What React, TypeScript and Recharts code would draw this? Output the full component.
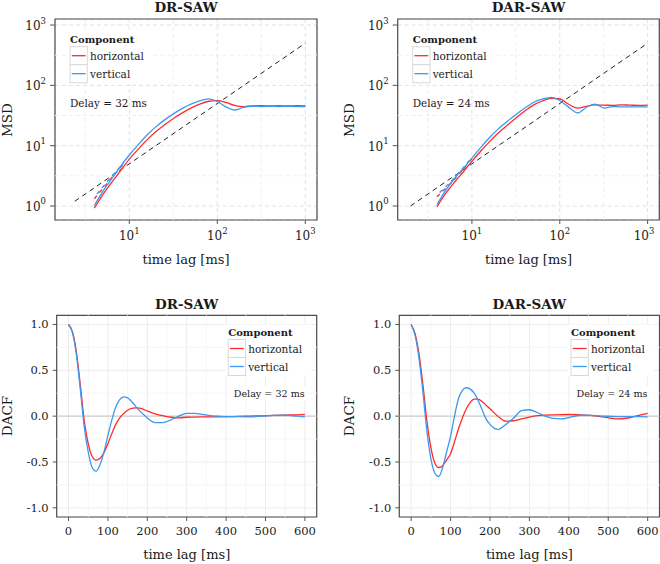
import React from 'react'
import { LineChart, Line, XAxis, YAxis, CartesianGrid, ReferenceLine, ReferenceArea } from 'recharts'

const RED = '#ff2b2b'
const BLUE = '#3c98f0'
const FONT = '"DejaVu Serif", serif'
const INK = '#1a1a1a'

// ---- MSD (log-log) ----
const msdLags = [4, 5, 6.5, 8, 10, 12.5, 16, 20, 25, 32, 40, 50, 63, 80, 100, 125, 160, 200, 250, 320, 400, 500, 630, 800, 1000]
const drMsdH = [0.92, 1.55, 2.6, 3.9, 6.0, 8.6, 12.6, 17, 22, 28.5, 35, 42, 49, 54.5, 56, 52, 46, 44.5, 45.5, 46, 45.5, 46, 45.5, 46, 45.5]
const drMsdV = [1.02, 1.75, 3.0, 4.6, 7.0, 10.2, 15.2, 20.5, 26.5, 34, 41.5, 49, 55.5, 59.5, 54, 44, 39, 43.5, 45, 44.5, 45, 44.5, 45, 44.5, 44.5]
const darMsdH = [0.97, 1.6, 2.6, 3.7, 5.5, 8.0, 11.8, 16.2, 21.5, 29, 37.5, 47, 55, 61, 60, 49, 42, 45, 47.5, 47, 46.5, 47.5, 47, 46.5, 47]
const darMsdV = [1.05, 1.8, 3.0, 4.2, 6.2, 9.2, 13.8, 19, 25, 33, 42, 52, 59, 63, 56, 44, 35, 43, 49, 42, 44.5, 44, 44, 44, 44]

const drFitLags = [4, 6, 8.6]
const drFitH = [1.32, 2.7, 5.0]
const drFitV = [1.4, 2.85, 5.2]
const darFitLags = [4, 6, 8, 10]
const darFitH = [1.42, 2.55, 4.1, 6.1]
const darFitV = [1.5, 2.7, 4.35, 6.4]

const drRefLags = [2.4, 1000]
const drRef = [1.2, 500]
const darRefLags = [2, 1000]
const darRef = [1, 500]

const msdXDomain = [1.43, 1358]
const msdYDomain = [0.586, 1259]
const msdXTicks = [10, 100, 1000]
const msdYTicks = [1, 10, 100, 1000]
const msdMinor = [3.162, 31.62, 316.2]

// ---- DACF ----
const acfLags = [0, 10, 20, 30, 40, 50, 60, 70, 80, 90, 100, 110, 120, 130, 140, 150, 160, 170, 180, 190, 200, 220, 240, 260, 280, 300, 320, 340, 360, 380, 400, 430, 460, 490, 520, 550, 580, 600]
const drAcfH = [1.0, 0.92, 0.7, 0.34, -0.05, -0.3, -0.44, -0.48, -0.46, -0.4, -0.3, -0.19, -0.09, -0.02, 0.03, 0.065, 0.085, 0.09, 0.088, 0.075, 0.057, 0.025, 0.005, -0.012, -0.018, -0.012, -0.01, -0.008, -0.007, -0.007, -0.006, -0.003, 0.0, 0.004, 0.008, 0.012, 0.015, 0.018]
const drAcfV = [1.0, 0.91, 0.67, 0.29, -0.12, -0.39, -0.56, -0.6, -0.53, -0.39, -0.21, -0.04, 0.1, 0.18, 0.21, 0.2, 0.16, 0.11, 0.06, 0.02, -0.02, -0.07, -0.07, -0.04, 0.0, 0.03, 0.03, 0.02, 0.005, 0.0, -0.005, -0.006, -0.007, 0.0, 0.008, 0.011, 0.0, -0.007]
const darAcfH = [1.0, 0.9, 0.68, 0.34, -0.05, -0.34, -0.51, -0.56, -0.54, -0.48, -0.41, -0.28, -0.14, -0.02, 0.08, 0.15, 0.185, 0.185, 0.16, 0.12, 0.08, 0.0, -0.055, -0.05, -0.03, -0.01, 0.005, 0.012, 0.015, 0.017, 0.018, 0.014, 0.006, -0.01, -0.03, -0.02, 0.01, 0.03]
const darAcfV = [1.0, 0.88, 0.63, 0.26, -0.16, -0.46, -0.62, -0.66, -0.56, -0.39, -0.22, 0.0, 0.19, 0.28, 0.31, 0.295, 0.25, 0.17, 0.07, -0.03, -0.09, -0.145, -0.09, -0.02, 0.06, 0.07, 0.04, 0.0, -0.025, -0.03, -0.015, 0.01, 0.008, 0.0, -0.005, -0.005, -0.006, -0.007]

const acfXDomain = [-30, 630]
const acfYDomain = [-1.1, 1.1]
const acfXTicks = [0, 100, 200, 300, 400, 500, 600]
const acfYTicks = [-1, -0.5, 0, 0.5, 1]
const acfXMinor = [50, 150, 250, 350, 450, 550]
const acfYMinor = [-0.75, -0.25, 0.25, 0.75]

const pts = (xs: number[], ys: number[]) => xs.map((t, i) => ({ t, v: ys[i] }))

const LogTickY = (props: any) => {
  const { x, y, payload } = props
  const k = Math.round(Math.log10(payload.value))
  return (
    <text x={x} y={y} textAnchor="end" fontFamily={FONT} fontSize={12} fill={INK}>
      <tspan dy={5}>10</tspan>
      <tspan dy={-6.5} fontSize={8.5}>{k}</tspan>
    </text>
  )
}

const LogTickX = (props: any) => {
  const { x, y, payload } = props
  const k = Math.round(Math.log10(payload.value))
  return (
    <text x={x} y={y} textAnchor="middle" fontFamily={FONT} fontSize={12} fill={INK}>
      <tspan dy={14}>10</tspan>
      <tspan dy={-6.5} fontSize={8.5}>{k}</tspan>
    </text>
  )
}

const NumTickY = (props: any) => {
  const { x, y, payload } = props
  return (
    <text x={x} y={y} dy={4} textAnchor="end" fontFamily={FONT} fontSize={11.5} fill={INK}>
      {payload.value.toFixed(1)}
    </text>
  )
}

const NumTickX = (props: any) => {
  const { x, y, payload } = props
  return (
    <text x={x} y={y} dy={12} textAnchor="middle" fontFamily={FONT} fontSize={11.5} fill={INK}>
      {payload.value}
    </text>
  )
}

function KeyLegend({ x, y }: { x: number; y: number }) {
  const rows = [
    { name: 'horizontal', color: RED },
    { name: 'vertical', color: BLUE },
  ]
  return (
    <g fontFamily={FONT}>
      <rect x={x - 3} y={y - 11} width={86} height={52} fill="#fff" />
      <text x={x} y={y} fontSize={10} fontWeight="bold" fill={INK}>Component</text>
      {rows.map((r, i) => {
        const top = y + 4 + i * 18
        return (
          <g key={r.name}>
            <rect x={x} y={top} width={17.3} height={18} fill="#fff" stroke="#d9d9d9" strokeWidth={1} />
            <line x1={x + 1.7} x2={x + 15.6} y1={top + 9} y2={top + 9} stroke={r.color} strokeWidth={1.3} />
            <text x={x + 20} y={top + 13.5} fontSize={10.5} fill={INK}>{r.name}</text>
          </g>
        )
      })}
    </g>
  )
}

const overlay: React.CSSProperties = { position: 'absolute', left: 0, top: 0, pointerEvents: 'none' }

type MsdProps = {
  title: string
  delay: string
  yw: number
  mr: number
  h: number[]
  v: number[]
  fitLags: number[]
  fitH: number[]
  fitV: number[]
  refLags: number[]
  ref: number[]
}

function MsdPanel(p: MsdProps) {
  const plotL = p.yw
  const plotR = 330 - p.mr
  const cx = (plotL + plotR) / 2
  return (
    <div style={{ position: 'relative', width: 330, height: 282 }}>
      <LineChart width={330} height={282} margin={{ top: 19, right: p.mr, bottom: 22, left: 0 }}>
        <CartesianGrid stroke="#e2e2e2" strokeDasharray="4 3" />
        {msdMinor.map((m) => (
          <ReferenceLine key={'x' + m} x={m} stroke="#efefef" strokeDasharray="4 3" />
        ))}
        {msdMinor.map((m) => (
          <ReferenceLine key={'y' + m} y={m} stroke="#efefef" strokeDasharray="4 3" />
        ))}
        <XAxis
          type="number"
          dataKey="t"
          scale="log"
          domain={msdXDomain}
          allowDataOverflow
          ticks={msdXTicks}
          tick={<LogTickX />}
          tickSize={4}
          tickMargin={2}
          tickLine={{ stroke: '#555' }}
          axisLine={false}
          height={40}
        />
        <YAxis
          type="number"
          scale="log"
          domain={msdYDomain}
          allowDataOverflow
          ticks={msdYTicks}
          tick={<LogTickY />}
          tickSize={5}
          tickMargin={4}
          tickLine={{ stroke: '#555' }}
          axisLine={false}
          width={p.yw}
        />
        <Line data={pts(p.refLags, p.ref)} dataKey="v" stroke="#222" strokeWidth={1} strokeDasharray="5 4" dot={false} isAnimationActive={false} />
        <Line data={pts(p.fitLags, p.fitH)} dataKey="v" stroke={RED} strokeWidth={1.3} strokeDasharray="4 4" dot={false} isAnimationActive={false} />
        <Line data={pts(p.fitLags, p.fitV)} dataKey="v" stroke={BLUE} strokeWidth={1.3} strokeDasharray="4 4" strokeDashoffset={4} dot={false} isAnimationActive={false} />
        <Line data={pts(msdLags, p.h)} dataKey="v" type="monotone" stroke={RED} strokeWidth={1.3} dot={false} isAnimationActive={false} />
        <Line data={pts(msdLags, p.v)} dataKey="v" type="monotone" stroke={BLUE} strokeWidth={1.3} dot={false} isAnimationActive={false} />
        <ReferenceArea x1={msdXDomain[0]} x2={msdXDomain[1]} y1={msdYDomain[0]} y2={msdYDomain[1]} fill="none" stroke="#4d4d4d" strokeWidth={1.2} ifOverflow="visible" />
      </LineChart>
      <svg width={330} height={282} style={overlay}>
        <g fontFamily={FONT} fill={INK}>
          <text x={cx} y={11.5} textAnchor="middle" fontSize={13.5} fontWeight="bold">{p.title}</text>
          <text x={cx} y={263.5} textAnchor="middle" fontSize={13}>time lag [ms]</text>
          <text transform={`translate(${plotL - 43.5},120) rotate(-90)`} textAnchor="middle" fontSize={13.5}>MSD</text>
          <text x={plotL + 15} y={107.3} fontSize={10.4}>{p.delay}</text>
        </g>
        <KeyLegend x={plotL + 15} y={42.7} />
      </svg>
    </div>
  )
}

type AcfProps = {
  title: string
  delay: string
  yw: number
  mr: number
  h: number[]
  v: number[]
}

function AcfPanel(p: AcfProps) {
  const plotL = p.yw
  const plotR = 330 - p.mr
  const cx = (plotL + plotR) / 2
  return (
    <div style={{ position: 'relative', width: 330, height: 282 }}>
      <LineChart width={330} height={282} margin={{ top: 33.3, right: p.mr, bottom: 17, left: 0 }}>
        <CartesianGrid stroke="#ececec" />
        {acfXMinor.map((m) => (
          <ReferenceLine key={'x' + m} x={m} stroke="#f6f6f6" />
        ))}
        {acfYMinor.map((m) => (
          <ReferenceLine key={'y' + m} y={m} stroke="#f6f6f6" />
        ))}
        <ReferenceLine y={0} stroke="#cfcfcf" strokeWidth={1.3} />
        <XAxis
          type="number"
          dataKey="t"
          domain={acfXDomain}
          allowDataOverflow
          ticks={acfXTicks}
          tick={<NumTickX />}
          tickSize={4}
          tickMargin={2}
          tickLine={{ stroke: '#555' }}
          axisLine={false}
          height={30}
        />
        <YAxis
          type="number"
          domain={acfYDomain}
          allowDataOverflow
          ticks={acfYTicks}
          tick={<NumTickY />}
          tickSize={4}
          tickMargin={4}
          tickLine={{ stroke: '#555' }}
          axisLine={false}
          width={p.yw}
        />
        <Line data={pts(acfLags, p.h)} dataKey="v" type="monotone" stroke={RED} strokeWidth={1.3} dot={false} isAnimationActive={false} />
        <Line data={pts(acfLags, p.v)} dataKey="v" type="monotone" stroke={BLUE} strokeWidth={1.3} dot={false} isAnimationActive={false} />
        <ReferenceArea x1={acfXDomain[0]} x2={acfXDomain[1]} y1={acfYDomain[0]} y2={acfYDomain[1]} fill="none" stroke="#4d4d4d" strokeWidth={1.2} ifOverflow="visible" />
      </LineChart>
      <svg width={330} height={282} style={overlay}>
        <g fontFamily={FONT} fill={INK}>
          <text x={cx} y={26.7} textAnchor="middle" fontSize={13.5} fontWeight="bold">{p.title}</text>
          <text x={cx} y={277} textAnchor="middle" fontSize={13}>time lag [ms]</text>
          <text transform={`translate(${plotL - 45},134) rotate(-90)`} textAnchor="middle" fontSize={13.5}>DACF</text>
          <rect x={plotR - 86} y={104} width={76} height={14} fill="#fff" />
          <text x={plotR - 12} y={115} textAnchor="end" fontSize={9.6}>{p.delay}</text>
        </g>
        <KeyLegend x={plotR - 88.5} y={53.5} />
      </svg>
    </div>
  )
}

export default function App() {
  return (
    <div style={{ position: 'absolute', left: 0, top: 0, width: 660, height: 564, background: '#fff' }}>
      <div style={{ position: 'absolute', left: 0, top: 0 }}>
        <MsdPanel title="DR-SAW" delay="Delay = 32 ms" yw={55} mr={13} h={drMsdH} v={drMsdV}
          fitLags={drFitLags} fitH={drFitH} fitV={drFitV} refLags={drRefLags} ref={drRef} />
      </div>
      <div style={{ position: 'absolute', left: 330, top: 0 }}>
        <MsdPanel title="DAR-SAW" delay="Delay = 24 ms" yw={67.7} mr={0.7} h={darMsdH} v={darMsdV}
          fitLags={darFitLags} fitH={darFitH} fitV={darFitV} refLags={darRefLags} ref={darRef} />
      </div>
      <div style={{ position: 'absolute', left: 0, top: 282 }}>
        <AcfPanel title="DR-SAW" delay="Delay = 32 ms" yw={56.7} mr={13.3} h={drAcfH} v={drAcfV} />
      </div>
      <div style={{ position: 'absolute', left: 330, top: 282 }}>
        <AcfPanel title="DAR-SAW" delay="Delay = 24 ms" yw={69.3} mr={0.5} h={darAcfH} v={darAcfV} />
      </div>
    </div>
  )
}
